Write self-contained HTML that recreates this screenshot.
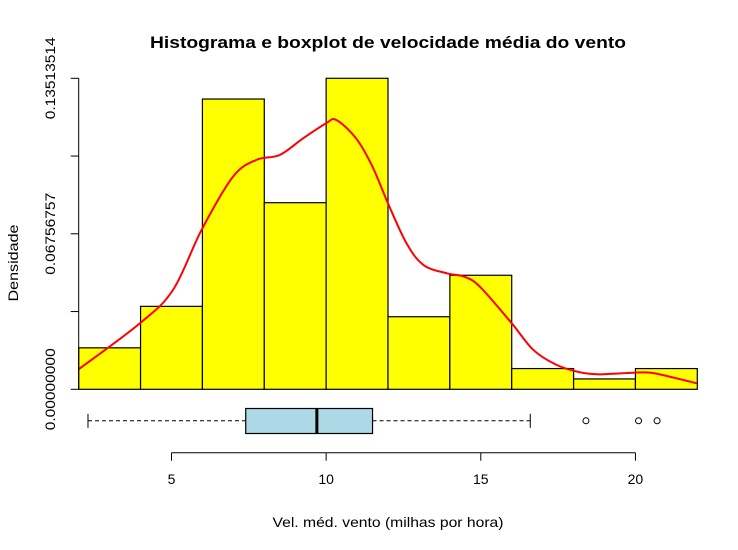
<!DOCTYPE html>
<html><head><meta charset="utf-8"><style>
html,body{margin:0;padding:0;background:#fff;}
svg{display:block;font-family:"Liberation Sans",Arial,sans-serif;}
</style></head><body>
<svg id="chart" width="738" height="550" viewBox="0 0 738 550" xmlns="http://www.w3.org/2000/svg">
<text x="388" y="48" text-anchor="middle" font-size="17" font-weight="bold" textLength="476" lengthAdjust="spacingAndGlyphs">Histograma e boxplot de velocidade média do vento</text>
<text x="388" y="527" text-anchor="middle" font-size="14" textLength="231" lengthAdjust="spacingAndGlyphs">Vel. méd. vento (milhas por hora)</text>
<text x="18" y="263" text-anchor="middle" font-size="14" textLength="77" lengthAdjust="spacingAndGlyphs" transform="rotate(-90 18 263)">Densidade</text>
<g id="plot"></g>
</svg>
<script>
const binEdges = [2,4,6,8,10,12,14,16,18,20,22];
const binCounts = [4,8,28,18,30,7,11,2,1,2];
const totalN = 111;
const yTicks = [0,0.03378378,0.06756757,0.10135135,0.13513514];
const yTickLabels = ["0.00000000","","0.06756757","","0.13513514"];
const xTicks = [5,10,15,20];
const densX = [2.0,3.98,5.05,5.97,6.99,7.75,8.5,9.25,10.0,10.33,10.97,11.5,12.0,12.6,13.15,13.9,14.45,14.97,16.0,16.7,17.45,18.2,18.85,19.9,20.5,21.1,21.98];
const densY = [0.0087,0.0287,0.0432,0.0692,0.0924,0.0997,0.1018,0.109,0.1156,0.117,0.109,0.0967,0.0808,0.0634,0.054,0.0504,0.049,0.0446,0.0287,0.0171,0.0106,0.0074,0.0065,0.0072,0.0072,0.0055,0.0026];
const boxStats = [2.3,7.4,9.7,11.5,16.6];
const outliers = [18.4,20.1,20.7];

const NS="http://www.w3.org/2000/svg";
const g=document.getElementById('plot');
const xs=v=>78.7+(v-2)*30.93;
const yMax=0.13513514;
const ys=v=>389.3-v/yMax*311;
function mk(tag,attrs){const e=document.createElementNS(NS,tag);for(const k in attrs)e.setAttribute(k,attrs[k]);g.appendChild(e);return e;}

binCounts.forEach((c,i)=>{
  const d=c/(totalN*(binEdges[i+1]-binEdges[i]));
  const r=mk('rect',{x:xs(binEdges[i]),y:ys(d),width:xs(binEdges[i+1])-xs(binEdges[i]),height:ys(0)-ys(d),fill:'#ffff00',stroke:'#000','stroke-width':1.2});
  
  
});
// smooth density curve (Catmull-Rom)
const P=densX.map((x,i)=>[xs(x),ys(densY[i])]);
let dstr='M'+P[0][0]+','+P[0][1];
for(let i=0;i<P.length-1;i++){
  const p0=P[Math.max(0,i-1)],p1=P[i],p2=P[i+1],p3=P[Math.min(P.length-1,i+2)];
  const c1=[p1[0]+(p2[0]-p0[0])/6,p1[1]+(p2[1]-p0[1])/6];
  const c2=[p2[0]-(p3[0]-p1[0])/6,p2[1]-(p3[1]-p1[1])/6];
  dstr+=' C'+c1[0]+','+c1[1]+' '+c2[0]+','+c2[1]+' '+p2[0]+','+p2[1];
}
const dl=mk('path',{d:dstr,fill:'none',stroke:'#ff0000','stroke-width':2,'stroke-linejoin':'round'});



// y axis
const ya=mk('line',{x1:78.7,x2:78.7,y1:ys(yTicks[yTicks.length-1]),y2:ys(0),stroke:'#000','stroke-width':1});


yTicks.forEach((t,i)=>{
  const tk=mk('line',{x1:70.7,x2:78.7,y1:ys(t),y2:ys(t),stroke:'#000'});
  
  
  if(yTickLabels[i]){
    const y=ys(t);
    const tx=mk('text',{x:55,y:y,'text-anchor':'middle','font-size':14,textLength:82,lengthAdjust:'spacingAndGlyphs',transform:'rotate(-90 55 '+y+')'});
    tx.textContent=yTickLabels[i];
    
    
  }
});
// x axis
const xa=mk('line',{x1:xs(xTicks[0]),x2:xs(xTicks[xTicks.length-1]),y1:452.7,y2:452.7,stroke:'#000'});


xTicks.forEach(t=>{
  const tk=mk('line',{x1:xs(t),x2:xs(t),y1:452.7,y2:460.7,stroke:'#000'});
  
  
  const tx=mk('text',{x:xs(t),y:484,'text-anchor':'middle','font-size':14});
  tx.textContent=t;
  
  
});
// boxplot
const cy=420.8;
const w1=mk('line',{x1:xs(boxStats[0]),x2:xs(boxStats[1]),y1:cy,y2:cy,stroke:'#000','stroke-dasharray':'4,3'});


const w2=mk('line',{x1:xs(boxStats[3]),x2:xs(boxStats[4]),y1:cy,y2:cy,stroke:'#000','stroke-dasharray':'4,3'});


[boxStats[0],boxStats[4]].forEach(v=>{
  const c=mk('line',{x1:xs(v),x2:xs(v),y1:cy-7,y2:cy+7,stroke:'#000'});
  
  
});
const bx=mk('rect',{x:xs(boxStats[1]),y:408.5,width:xs(boxStats[3])-xs(boxStats[1]),height:25,fill:'#add8e6',stroke:'#000','stroke-width':1.2});


const md=mk('line',{x1:xs(boxStats[2]),x2:xs(boxStats[2]),y1:408.5,y2:433.5,stroke:'#000','stroke-width':3});


outliers.forEach(v=>{
  const o=mk('circle',{cx:xs(v),cy:cy,r:3,fill:'none',stroke:'#000'});
  
  
});
</script>
</body></html>
